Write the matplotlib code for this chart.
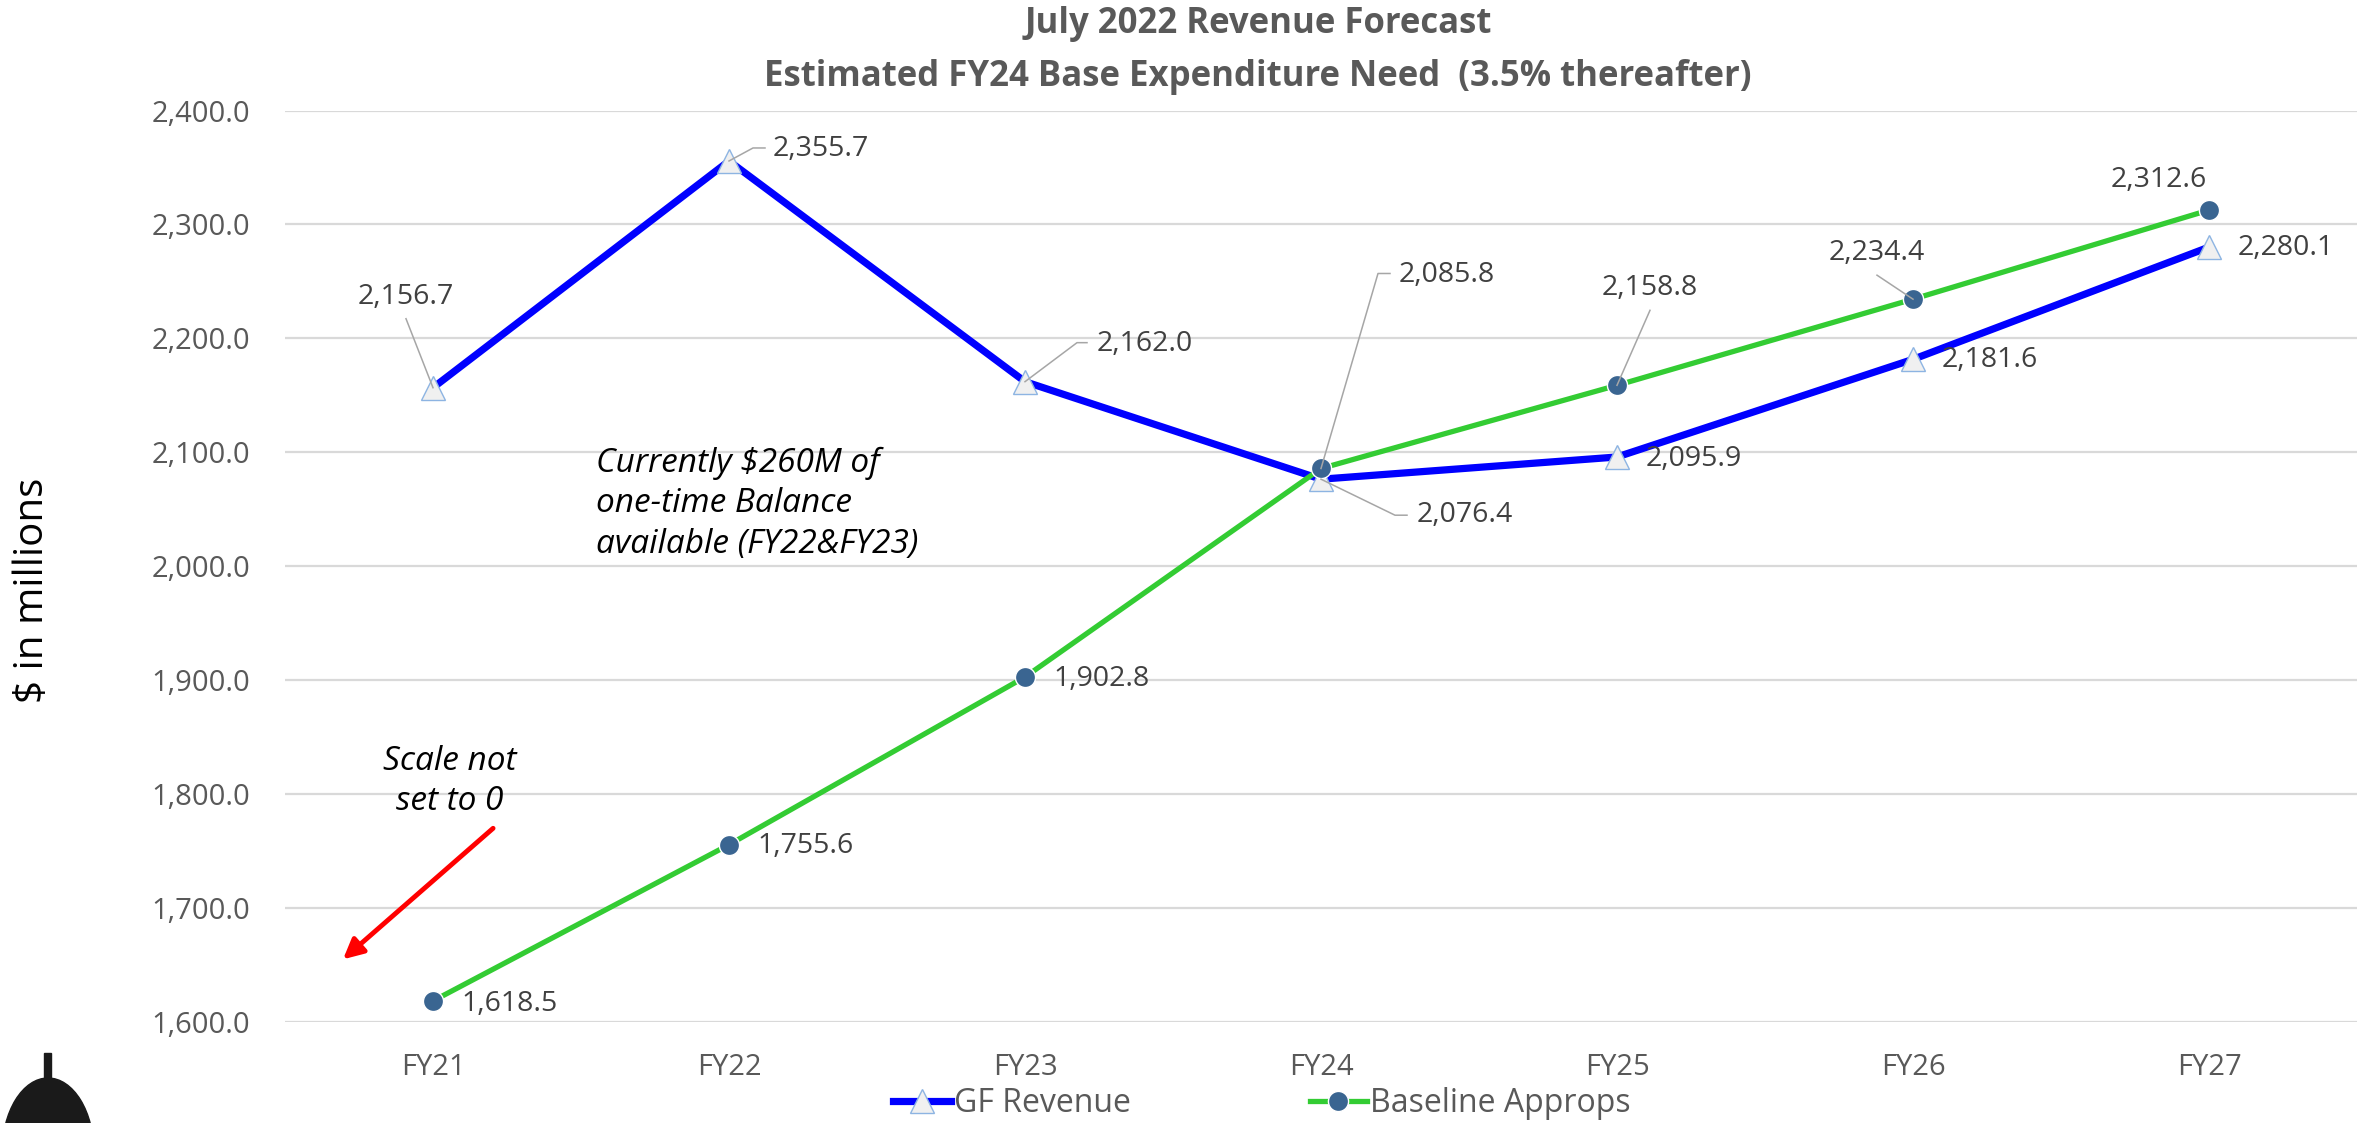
import matplotlib
matplotlib.use("Agg")
import matplotlib.pyplot as plt
from matplotlib.lines import Line2D
from matplotlib.patches import Ellipse, Rectangle
from matplotlib.ticker import FuncFormatter, MultipleLocator
from matplotlib.transforms import IdentityTransform

# ---- Data ----
years = ["FY21", "FY22", "FY23", "FY24", "FY25", "FY26", "FY27"]
gf_revenue = [2156.7, 2355.7, 2162.0, 2076.4, 2095.9, 2181.6, 2280.1]
baseline_approps = [1618.5, 1755.6, 1902.8, 2085.8, 2158.8, 2234.4, 2312.6]

title_lines = ["July 2022 Revenue Forecast",
               "Estimated FY24 Base Expenditure Need  (3.5% thereafter)"]

# label placement (pixel offsets from each point) and leader lines
gf_label_pos = [(-27, 91, "center"), (44, 12, "left"), (72, 38, "left"),
                (96, -36, "left"), (29, -2, "left"), (29, -1, "left"),
                (29, -1, "left")]
gf_leaders = [[(0, 0), (-27, 69)], [(0, 0), (24, 13), (36, 13)],
              [(0, 0), (52, 39), (62, 39)], [(0, 0), (74, -36), (86, -36)],
              None, None, None]
base_label_pos = [(28, -3, "left"), (28, -1, "left"), (28, -2, "left"),
                  (78, 193, "left"), (33, 97, "center"), (-36, 46, "center"),
                  (-50, 30, "center")]
base_leaders = [None, None, None, [(0, 0), (57, 195), (69, 195)],
                [(0, 0), (33, 75)], [(0, 0), (-36, 24)], None]

FONT = "Open Sans"
plt.rcParams["font.family"] = [FONT, "DejaVu Sans"]

W, H = 2374, 1123
fig = plt.figure(figsize=(W / 100, H / 100), dpi=100)
ax = fig.add_axes([285 / W, 1 - 1022 / H, (2357 - 285) / W, (1022 - 110.5) / H])

x = list(range(len(years)))

ax.plot(x, gf_revenue, color="#0000FF", linewidth=5.2, marker="^",
        markersize=17, markerfacecolor="#F0F0F0", markeredgecolor="#8DB4E2",
        markeredgewidth=1, label="GF Revenue", zorder=3)
ax.plot(x, baseline_approps, color="#33CC33", linewidth=3.8, marker="o",
        markersize=14.5, markerfacecolor="#3A6591", markeredgecolor="white",
        markeredgewidth=1, label="Baseline Approps", zorder=4)

ax.set_xlim(-0.5, len(years) - 0.5)
ax.set_ylim(1600, 2400)
ax.yaxis.set_major_locator(MultipleLocator(100))
ax.yaxis.set_major_formatter(FuncFormatter(lambda v, _: f"{v:,.1f}"))
ax.set_xticks(x)
ax.set_xticklabels(years)

ax.grid(axis="y", color="#D9D9D9", linewidth=1.6)
ax.set_axisbelow(True)
for s in ax.spines.values():
    s.set_visible(False)
ax.tick_params(axis="both", length=0, labelsize=21, labelcolor="#595959")
ax.tick_params(axis="y", pad=25)
ax.tick_params(axis="x", pad=22)

fig.text(33 / W, 1 - 590 / H, "$ in millions", rotation=90, fontsize=29,
         color="black", ha="center", va="center")

# title
fig.text(1258 / W, 1 - 24 / H, title_lines[0], fontsize=25, fontweight="bold",
         color="#595959", ha="center", va="center")
fig.text(1258 / W, 1 - 77 / H, title_lines[1], fontsize=25, fontweight="bold",
         color="#595959", ha="center", va="center")


def add_labels(values, positions, leaders):
    for i, v in enumerate(values):
        dx, dy, ha = positions[i]
        ax.annotate(f"{v:,.1f}", xy=(i, v), xytext=(dx, dy),
                    textcoords="offset pixels", ha=ha, va="center",
                    fontsize=20.5, color="#404040", zorder=6)
        if leaders[i]:
            px, py = ax.transData.transform((i, v))
            xs = [px + p[0] for p in leaders[i]]
            ys = [py + p[1] for p in leaders[i]]
            fig.add_artist(Line2D(xs, ys, color="#A6A6A6", linewidth=1.1,
                                  transform=IdentityTransform(), zorder=5))


add_labels(gf_revenue, gf_label_pos, gf_leaders)
add_labels(baseline_approps, base_label_pos, base_leaders)

# notes
ax.text(0.55, 2055, "Currently $260M of\none-time Balance\navailable (FY22&FY23)",
        fontsize=24, style="italic", color="black", ha="left", va="center",
        linespacing=1.3)
ax.text(0.057, 1811, "Scale not\nset to 0", fontsize=24, style="italic",
        color="black", ha="center", va="center", linespacing=1.3)
ax.annotate("", xy=(-0.304, 1655), xytext=(0.203, 1770),
            arrowprops=dict(arrowstyle="-|>,head_length=1.2,head_width=0.6",
                            color="#FF0000", lw=3.5, shrinkA=0, shrinkB=0))

# legend
fig.legend(loc="center", bbox_to_anchor=(1262 / W, 1 - 1104 / H), ncol=2,
           frameon=False, fontsize=23, handlelength=1.8, handletextpad=0.1,
           columnspacing=5.6, labelcolor="#595959")

# small dome emblem in bottom-left corner (partly cut off)
fig.add_artist(Ellipse((48, -30), 92, 150, color="#1A1A1A",
                       transform=IdentityTransform()))
fig.add_artist(Rectangle((44, 40), 7, 30, color="#1A1A1A",
                         transform=IdentityTransform()))

fig.savefig("out.png", dpi=100)
